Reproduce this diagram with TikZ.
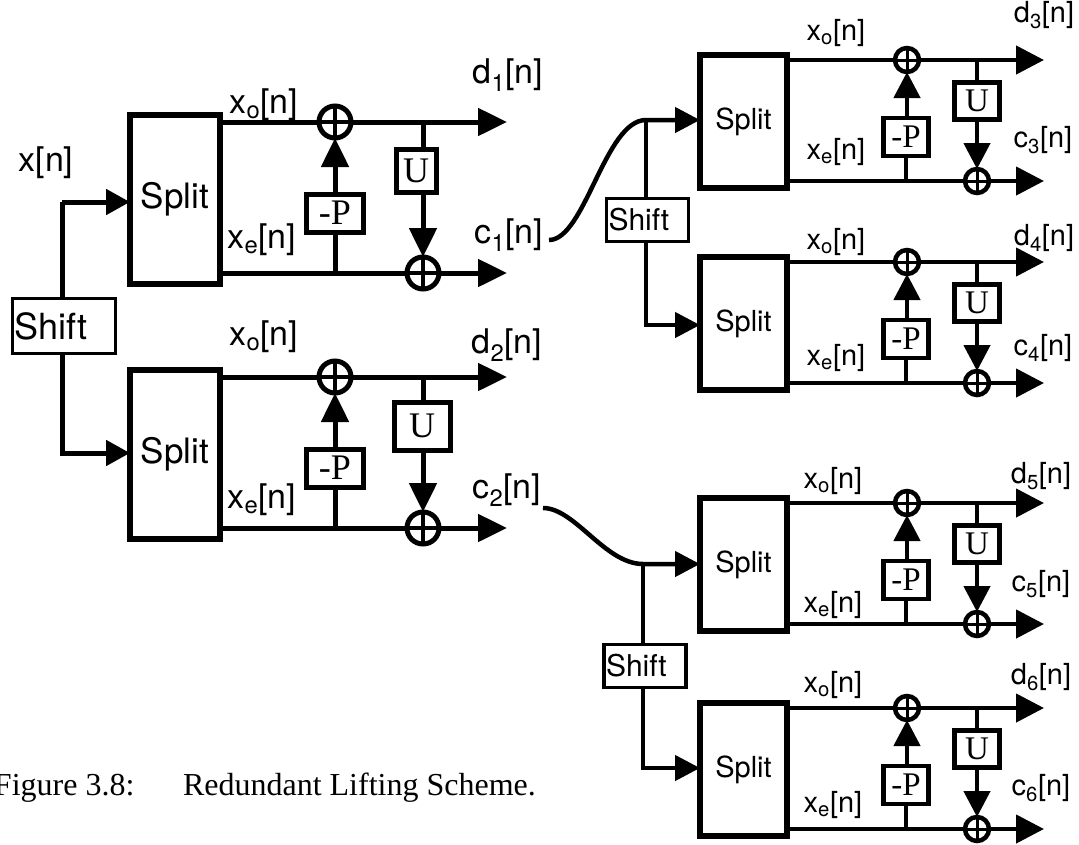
\documentclass[tikz,border=0pt]{standalone}
\usepackage{fontspec}
\setmainfont{Liberation Serif}
\newfontfamily\hv{TeX Gyre Heros}
\usetikzlibrary{arrows.meta}
\newcommand\fs[1]{\fontsize{#1}{#1}\selectfont}
\tikzset{
 every node/.style={inner sep=0pt, outer sep=0pt},
 lline/.style={line width=5pt},
 rline/.style={line width=4.5pt},
 larrow/.style={-{Triangle[length=29pt,width=27pt]}},
 linarrow/.style={-{Triangle[length=24pt,width=25pt]}},
 rarrow/.style={-{Triangle[length=28pt,width=28pt]}},
 rvarrow/.style={-{Triangle[length=26pt,width=26pt]}},
 rinarrow/.style={-{Triangle[length=25pt,width=25pt]}},
 bigsplit/.style={draw, line width=6pt, minimum width=90pt, minimum height=169pt, font=\hv\fs{35}},
 smallsplit/.style={draw, line width=6pt, minimum width=87pt, minimum height=133pt, font=\hv\fs{29}},
 lpbox/.style={draw, line width=5pt, minimum width=57pt, minimum height=38pt, font=\fs{36}},
 rpbox/.style={draw, line width=4.5pt, minimum width=45pt, minimum height=38pt, font=\fs{33}},
 ubox/.style={draw, line width=5pt, font=\fs{36}},
 rubox/.style={draw, line width=4.5pt, minimum width=45pt, minimum height=37pt, font=\fs{33}},
 plusgen/.style={circle, draw, path picture={\draw[line width=#1] (path picture bounding box.north) -- (path picture bounding box.south) (path picture bounding box.west) -- (path picture bounding box.east);}},
 bigplus/.style={plusgen=3.5pt, line width=5pt, minimum size=32pt},
 smallplus/.style={plusgen=3pt, line width=4.5pt, minimum size=24pt},
 shiftgen/.style={draw, line width=3.5pt, align=left, inner xsep=2pt},
 shiftL/.style={shiftgen, text width=99pt, minimum height=55pt, font=\hv\fs{36}},
 shiftR/.style={shiftgen, text width=78pt, minimum height=43pt, font=\hv\fs{30}},
 llab/.style={font=\hv\fs{34}},
 rlab/.style={font=\hv\fs{29}},
 captext/.style={font=\fs{32}, anchor=base west},
}
\newcommand\Lblock[5]{%
 \node[bigsplit] (#1-split) at (175,#2+77) {Split};
 \node[bigplus] (#1-p1) at (335,#2) {};
 \node[bigplus] (#1-p2) at (423,#2+151) {};
 \node[lpbox] (#1-P) at (335,#2+91) {-P};
 \node[ubox, minimum width=#4, minimum height=#5] (#1-U) at (#3,#2+49) {U};
 \coordinate (#1-do) at (507,#2);
 \coordinate (#1-co) at (507,#2+151);
 \coordinate (#1-ut) at (423,#2);
 \coordinate (#1-pb) at (335,#2+151);
 \draw[lline] (#1-split.east |- #1-p1) -- (#1-p1);
 \draw[lline,larrow] (#1-p1) -- (#1-do);
 \draw[lline] (#1-split.east |- #1-p2) -- (#1-p2);
 \draw[lline,larrow] (#1-p2) -- (#1-co);
 \draw[lline] (#1-pb) -- (#1-P);
 \draw[lline,larrow] (#1-P) -- (#1-p1);
 \draw[lline] (#1-ut) -- (#1-U.north -| #1-ut);
 \draw[lline,larrow] (#1-U.south -| #1-p2) -- (#1-p2);
}
\newcommand\Rblock[2]{%
 \node[smallsplit] (#1-split) at (743.5,#2+61.5) {Split};
 \node[smallplus] (#1-p1) at (907,#2) {};
 \node[smallplus] (#1-p2) at (977,#2+121) {};
 \node[rpbox] (#1-P) at (906,#2+77) {-P};
 \node[rubox] (#1-U) at (977,#2+41) {U};
 \coordinate (#1-do) at (1044,#2);
 \coordinate (#1-co) at (1044,#2+121);
 \coordinate (#1-ut) at (977,#2);
 \coordinate (#1-pb) at (906,#2+121);
 \draw[rline] (#1-split.east |- #1-p1) -- (#1-p1);
 \draw[rline,rarrow] (#1-p1) -- (#1-do);
 \draw[rline] (#1-split.east |- #1-p2) -- (#1-p2);
 \draw[rline,rarrow] (#1-p2) -- (#1-co);
 \draw[rline] (#1-pb) -- (#1-P.south -| #1-pb);
 \draw[rline,rvarrow] (#1-P.north -| #1-p1) -- (#1-p1);
 \draw[rline] (#1-ut) -- (#1-U);
 \draw[rline,rvarrow] (#1-U) -- (#1-p2);
}
\begin{document}
\begin{tikzpicture}[x=1pt,y=-1pt]
\useasboundingbox (0,0) rectangle (1079,844);
\clip (0,0) rectangle (1079,844);
\fill[white] (0,0) rectangle (1079,844);
% left half
\Lblock{A}{122}{416}{40pt}{43pt}
\Lblock{B}{377}{422}{56pt}{48pt}
\node[shiftL] (shiftA) at (64,326) {Shift};
\coordinate (A-in) at (62,202);
\coordinate (B-in) at (62,453);
\draw[lline] (shiftA.north -| A-in) -- (A-in);
\draw[lline,linarrow] (A-in) -- (A-split.west |- A-in);
\draw[lline,linarrow] (shiftA.south -| B-in) -- (B-in) -- (B-split.west |- B-in);
\node[llab] (xn) at (46,163) {x[n]};
\node[llab] (A-xo) at (264,105) {x\textsubscript{o}[n]};
\node[llab] (A-xe) at (262,240) {x\textsubscript{e}[n]};
\node[llab] (A-d) at (508,75) {d\textsubscript{1}[n]};
\node[llab] (A-c) at (509,235) {c\textsubscript{1}[n]};
\node[llab] (B-xo) at (264,337) {x\textsubscript{o}[n]};
\node[llab] (B-xe) at (262,500) {x\textsubscript{e}[n]};
\node[llab] (B-d) at (507,345) {d\textsubscript{2}[n]};
\node[llab] (B-c) at (507,490) {c\textsubscript{2}[n]};
% right half
\Rblock{C}{60}
\Rblock{D}{262}
\Rblock{E}{503}
\Rblock{F}{708}
\node[shiftR] (shiftC) at (647.5,220) {Shift};
\node[shiftR] (shiftE) at (645,666) {Shift};
\coordinate (C-in) at (646,120);
\coordinate (D-in) at (646,325);
\coordinate (E-in) at (643,564);
\coordinate (F-in) at (643,768);
\coordinate (c1s) at (549,240);
\coordinate (c2s) at (543,508);
\draw[rline,rinarrow] (c1s) .. controls (585,240) and (605,120) .. (C-in) -- (C-split.west |- C-in);
\draw[rline] (shiftC.north -| C-in) -- (C-in);
\draw[rline,rinarrow] (shiftC.south -| D-in) -- (D-in) -- (D-split.west |- D-in);
\draw[rline,rinarrow] (c2s) .. controls (575,508) and (605,564) .. (E-in) -- (E-split.west |- E-in);
\draw[rline] (shiftE.north -| E-in) -- (E-in);
\draw[rline,rinarrow] (shiftE.south -| F-in) -- (F-in) -- (F-split.west |- F-in);
\node[rlab] (C-xo) at (836,33) {x\textsubscript{o}[n]};
\node[rlab] (C-xe) at (836,152) {x\textsubscript{e}[n]};
\node[rlab] (C-d) at (1044,15) {d\textsubscript{3}[n]};
\node[rlab] (C-c) at (1043,140) {c\textsubscript{3}[n]};
\node[rlab] (D-xo) at (836,242) {x\textsubscript{o}[n]};
\node[rlab] (D-xe) at (836,358) {x\textsubscript{e}[n]};
\node[rlab] (D-d) at (1044,238) {d\textsubscript{4}[n]};
\node[rlab] (D-c) at (1043,348) {c\textsubscript{4}[n]};
\node[rlab] (E-xo) at (833,481) {x\textsubscript{o}[n]};
\node[rlab] (E-xe) at (833,605) {x\textsubscript{e}[n]};
\node[rlab] (E-d) at (1041,476) {d\textsubscript{5}[n]};
\node[rlab] (E-c) at (1041,584) {c\textsubscript{5}[n]};
\node[rlab] (F-xo) at (833,685) {x\textsubscript{o}[n]};
\node[rlab] (F-xe) at (833,805) {x\textsubscript{e}[n]};
\node[rlab] (F-d) at (1041,677) {d\textsubscript{6}[n]};
\node[rlab] (F-c) at (1041,788) {c\textsubscript{6}[n]};
% caption
\node[captext] (cap1) at (-6,795) {Figure 3.8:};
\node[captext] (cap2) at (183,795) {Redundant Lifting Scheme.};
\end{tikzpicture}
\end{document}
